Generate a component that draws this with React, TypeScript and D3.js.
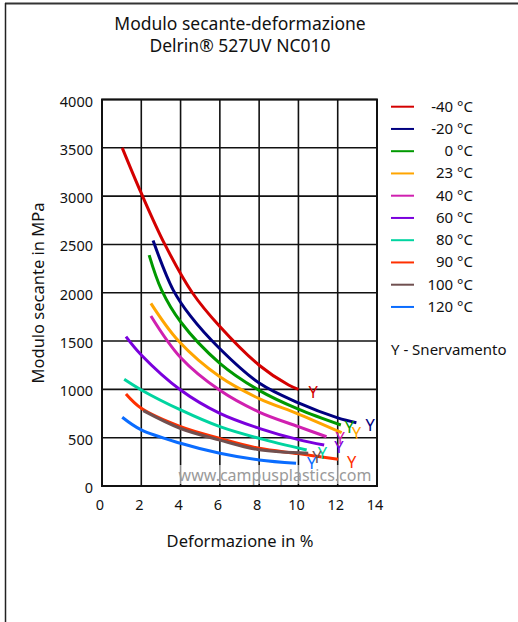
import React from "react";
import * as d3 from "d3";

const xTicks = [0, 2, 4, 6, 8, 10, 12, 14];
const yTicks = [0, 500, 1000, 1500, 2000, 2500, 3000, 3500, 4000];

const seriesNames = ["-40 °C", "-20 °C", "0 °C", "23 °C", "40 °C", "60 °C", "80 °C", "90 °C", "100 °C", "120 °C"];
const seriesColors = ["#d40000", "#000080", "#009900", "#ffa500", "#d020b0", "#7a00dd", "#00d4a0", "#ff3000", "#705050", "#0a6cff"];

const sM40: [number, number][] = [[1.03, 3500], [2, 3030], [3.2, 2500], [4.6, 2000], [6, 1650], [8, 1250], [9.5, 1045], [10, 1000]];
const sM20: [number, number][] = [[2.6, 2540], [3.62, 2030], [4.5, 1760], [6, 1420], [8, 1065], [10, 860], [12, 705], [12.95, 655]];
const s0: [number, number][] = [[2.4, 2390], [3.03, 2030], [4, 1700], [6, 1270], [8, 990], [10, 795], [12.16, 631]];
const s23: [number, number][] = [[2.49, 1890], [3.9, 1500], [6, 1130], [8, 905], [10, 745], [12.2, 552]];
const s40: [number, number][] = [[2.49, 1760], [4, 1330], [6, 990], [8, 765], [10, 614], [11.43, 510]];
const s60: [number, number][] = [[1.22, 1546], [2, 1356], [4, 994], [6, 752], [8, 597], [10, 480], [11.31, 424]];
const s80: [number, number][] = [[1.13, 1104], [2, 994], [4, 787], [6, 614], [8, 493], [10.42, 373]];
const s90: [number, number][] = [[1.22, 952], [2, 804], [4, 614], [6, 493], [8, 390], [10, 335], [12.02, 276]];
const s100: [number, number][] = [[2.1, 780], [4, 595], [6, 475], [8, 375], [10.5, 340]];
const s120: [number, number][] = [[1.03, 711], [2, 580], [4, 442], [6, 338], [8, 269], [9.88, 235]];

const seriesData = [sM40, sM20, s0, s23, s40, s60, s80, s90, s100, s120];
const yieldLabelOffsets: [number, number][] = [[10, 3], [9, 2], [4, 2], [10, 0], [9, 1], [10, 2], [11, 3], [9, 3], [4, 4], [11, 0]];

const W = 518;
const H = 622;
const left = 102;
const right = 377;
const top = 99.5;
const bottom = 486;

export default function App() {
  const x = d3.scaleLinear().domain([0, 14]).range([left, right]);
  const y = d3.scaleLinear().domain([0, 4000]).range([bottom, top]);
  const line = d3
    .line<[number, number]>()
    .x((d) => x(d[0]))
    .y((d) => y(d[1]))
    .curve(d3.curveCatmullRom.alpha(0.5));
  const font = "'Noto Sans', 'Open Sans', sans-serif";

  return (
    <svg
      width={W}
      height={H}
      style={{ position: "absolute", left: 0, top: 0, background: "#fff" }}
      fontFamily={font}
    >
      <rect x={0} y={0} width={W} height={H} fill="#fff" />
      {/* outer frame */}
      <line x1={5} y1={3.5} x2={W} y2={3.5} stroke="#333" strokeWidth={2} />
      <line x1={5.5} y1={3} x2={5.5} y2={H} stroke="#222" strokeWidth={1.5} />

      {/* title */}
      <text x={240} y={30} textAnchor="middle" fontSize={17.5} fill="#111">
        Modulo secante-deformazione
      </text>
      <text x={240} y={52} textAnchor="middle" fontSize={17.5} fill="#111">
        Delrin® 527UV NC010
      </text>

      {/* grid */}
      {xTicks.map((t) => (
        <line key={"gx" + t} x1={x(t)} x2={x(t)} y1={top} y2={bottom} stroke="#111" strokeWidth={1.6} />
      ))}
      {yTicks.map((t) => (
        <line key={"gy" + t} x1={left} x2={right} y1={y(t)} y2={y(t)} stroke="#111" strokeWidth={1.6} />
      ))}
      <rect x={left} y={top} width={right - left} height={bottom - top} fill="none" stroke="#111" strokeWidth={2} />

      {/* tick labels */}
      {xTicks.map((t) => (
        <text key={"xl" + t} x={x(t) - 2} y={510} textAnchor="middle" fontSize={14.5} fill="#111">
          {t}
        </text>
      ))}
      {yTicks.map((t) => (
        <text key={"yl" + t} x={93} y={y(t) + 7} textAnchor="end" fontSize={14.5} fill="#111">
          {t}
        </text>
      ))}

      {/* axis titles */}
      <text x={240} y={547} textAnchor="middle" fontSize={16.5} fill="#111">
        Deformazione in %
      </text>
      <text
        transform={`translate(44, 293) rotate(-90)`}
        textAnchor="middle"
        fontSize={16.5}
        fill="#111"
      >
        Modulo secante in MPa
      </text>

      {/* watermark */}
      <rect x={176} y={465} width={200} height={19} fill="#fff" opacity={0.55} />
      <text x={275} y={481} textAnchor="middle" fontSize={16} fill="#9a9a9a">
        www.campusplastics.com
      </text>

      {/* curves */}
      {seriesData.map((d, i) => (
        <path key={"s" + i} d={line(d) || ""} fill="none" stroke={seriesColors[i]} strokeWidth={3} strokeLinecap="butt" />
      ))}

      {/* yield labels */}
      {seriesData.map((d, i) => {
        const last = d[d.length - 1];
        const [dx, dy] = yieldLabelOffsets[i];
        return (
          <text
            key={"y" + i}
            x={x(last[0]) + dx}
            y={y(last[1]) + dy + 6}
            fontSize={16.5}
            fill={seriesColors[i]}
          >
            Y
          </text>
        );
      })}

      {/* legend */}
      {seriesNames.map((n, i) => {
        const ly = 106.7 + i * 22.25;
        return (
          <g key={"lg" + i}>
            <line x1={391} x2={414} y1={ly} y2={ly} stroke={seriesColors[i]} strokeWidth={2} />
            <text x={473} y={ly + 5} textAnchor="end" fontSize={15} fill="#111">
              {n}
            </text>
          </g>
        );
      })}
      <text x={391} y={355} fontSize={15} fill="#111">
        Y - Snervamento
      </text>
    </svg>
  );
}
